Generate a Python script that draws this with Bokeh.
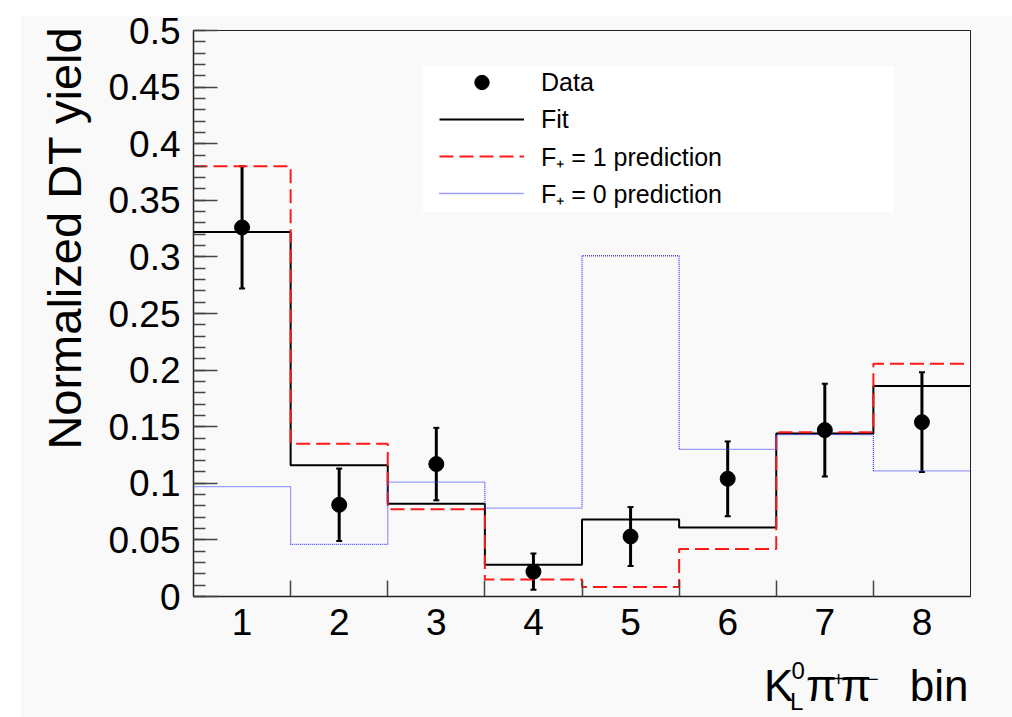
import math
from bokeh.plotting import figure
from bokeh.models import (FixedTicker, CustomJSTickFormatter, Legend, LegendItem, Title,
                          BoxAnnotation, Whisker, TeeHead, ColumnDataSource, Range1d,
                          LinearAxis, Spacer)
from bokeh.layouts import row, column
from bokeh.embed import file_html
from bokeh.resources import INLINE

# ---------------- data ----------------
bins = [1, 2, 3, 4, 5, 6, 7, 8]
bin_labels = ["1", "2", "3", "4", "5", "6", "7", "8"]
data_y = [0.326, 0.081, 0.117, 0.022, 0.053, 0.104, 0.147, 0.154]
data_err = [0.054, 0.032, 0.032, 0.016, 0.026, 0.033, 0.041, 0.044]
fit_y = [0.322, 0.116, 0.082, 0.028, 0.068, 0.061, 0.144, 0.186]
fplus1_y = [0.380, 0.135, 0.077, 0.015, 0.0085, 0.042, 0.145, 0.2055]
fplus0_y = [0.097, 0.046, 0.101, 0.078, 0.301, 0.130, 0.143, 0.111]
y_ticks = [0.0, 0.05, 0.1, 0.15, 0.2, 0.25, 0.3, 0.35, 0.4, 0.45, 0.5]
y_tick_labels = ["0", "0.05", "0.1", "0.15", "0.2", "0.25", "0.3", "0.35", "0.4", "0.45", "0.5"]
y_minor_step = 0.01
y_title = "Normalized DT yield"

FONT = "Liberation Sans"
BG = "#f9f9f9"

# page layout: figure placed at (20, 15) on the page (white strip above / left)
PAGE_X, PAGE_Y = 20, 15
W, H = 1012 - PAGE_X, 717 - PAGE_Y
FRAME_L, FRAME_R, FRAME_T, FRAME_B = 190, 970, 30, 597
ML, MR = FRAME_L - PAGE_X, PAGE_X + W - FRAME_R
MT, MB = FRAME_T - PAGE_Y, PAGE_Y + H - FRAME_B
X0, X1 = bins[0] - 0.5, bins[-1] + 0.5
Y0, Y1 = y_ticks[0], y_ticks[-1]
FW, FH = FRAME_R - FRAME_L, FRAME_B - FRAME_T


def dx(px):  # page pixel x -> data x (layout helper for decorations)
    return X0 + (px - FRAME_L) / FW * (X1 - X0)


def dy(py):  # page pixel y -> data y
    return Y0 + (FRAME_B - py) / FH * (Y1 - Y0)


edges = [b - 0.5 for b in bins] + [bins[-1] + 0.5]


def steps(vals):
    return list(vals) + [vals[-1]]


LOOKUP = """
const i = tv.findIndex(t => Math.abs(t - tick) < 1e-9);
return i >= 0 ? tl[i] : "";
"""

p = figure(width=W, height=H, x_range=Range1d(X0, X1), y_range=Range1d(Y0, Y1),
           output_backend="svg", toolbar_location=None,
           min_border_left=ML, min_border_right=MR, min_border_top=MT, min_border_bottom=MB)
p.background_fill_color = BG
p.border_fill_color = BG
p.outline_line_color = "#222222"
p.outline_line_width = 1
p.xgrid.visible = False
p.ygrid.visible = False

# legend white box (ROOT TLegend area)
p.add_layout(BoxAnnotation(left=dx(420), right=dx(893), bottom=dy(212), top=dy(65),
                           fill_color="white", fill_alpha=1.0, line_color=None, level="underlay"))

r_fit = p.step(x=edges, y=steps(fit_y), mode="after", line_color="black", line_width=2)
r_f1 = p.step(x=edges, y=steps(fplus1_y), mode="after", line_color="#ff1a1a", line_width=2,
              line_dash="14 6")
r_f0 = p.step(x=edges, y=steps(fplus0_y), mode="after", line_color="#4040ff", line_width=1.3,
              line_dash="1 1")

src = ColumnDataSource(dict(x=bins, y=data_y,
                            lower=[v - e for v, e in zip(data_y, data_err)],
                            upper=[v + e for v, e in zip(data_y, data_err)]))
p.add_layout(Whisker(base="x", lower="lower", upper="upper", source=src,
                     line_color="black", line_width=3,
                     upper_head=TeeHead(size=6, line_color="black", line_width=2),
                     lower_head=TeeHead(size=6, line_color="black", line_width=2)))
r_data = p.scatter(x="x", y="y", source=src, size=15, color="black")

# ---------------- axes ----------------
p.xaxis.ticker = FixedTicker(ticks=bins, minor_ticks=edges[1:-1])
p.xaxis.formatter = CustomJSTickFormatter(args=dict(tv=bins, tl=bin_labels), code=LOOKUP)
p.xaxis.major_tick_line_color = None
p.xaxis.minor_tick_in = 16
p.xaxis.minor_tick_out = 0
p.xaxis.minor_tick_line_color = "#444444"
p.xaxis.minor_tick_line_width = 1.5
p.xaxis.major_label_text_font = FONT
p.xaxis.major_label_text_font_size = "37px"
p.xaxis.major_label_text_color = "black"
p.xaxis.major_label_standoff = 6
p.xaxis.axis_line_color = "#222222"
p.xaxis.axis_line_width = 1.5

y_minor = [round(i * y_minor_step, 2) for i in range(int(round(Y1 / y_minor_step)) + 1)]
p.yaxis.ticker = FixedTicker(ticks=y_ticks, minor_ticks=y_minor)
p.yaxis.formatter = CustomJSTickFormatter(args=dict(tv=y_ticks, tl=y_tick_labels), code=LOOKUP)
p.yaxis.major_tick_in = 24
p.yaxis.major_tick_out = 0
p.yaxis.minor_tick_in = 12
p.yaxis.minor_tick_out = 0
p.yaxis.major_tick_line_color = "#444444"
p.yaxis.minor_tick_line_color = "#444444"
p.yaxis.major_tick_line_width = 1.5
p.yaxis.minor_tick_line_width = 1.5
p.yaxis.major_label_text_font = FONT
p.yaxis.major_label_text_font_size = "37px"
p.yaxis.major_label_text_color = "black"
p.yaxis.major_label_standoff = 13
p.yaxis.axis_line_color = "#222222"
p.yaxis.axis_line_width = 1.5

# y-axis title (top aligned like ROOT)
p.add_layout(Title(text=y_title, align="right", offset=-4, standoff=30,
                   text_font=FONT, text_font_size="47px", text_font_style="normal",
                   text_color="black"), "left")


def text_axis(pieces, fnt, size, standoff, color="black"):
    pos = [dx(px) for _, px in pieces]
    txt = [t for t, _ in pieces]
    ax = LinearAxis(ticker=FixedTicker(ticks=pos, minor_ticks=[]),
                    formatter=CustomJSTickFormatter(args=dict(tv=pos, tl=txt), code=LOOKUP),
                    axis_line_color=None, major_tick_line_color=None,
                    minor_tick_line_color=None, major_tick_in=0, major_tick_out=0,
                    minor_tick_in=0, minor_tick_out=0,
                    major_label_text_font=fnt, major_label_text_font_size=f"{size}px",
                    major_label_text_color=color, major_label_standoff=standoff)
    p.add_layout(ax, "below")


# x-axis title "K_L^0 pi+ pi- bin": stacked text-only axes (text, centre x in page px)
text_axis([("0", 797)], FONT, 24, 24)
text_axis([("+", 837.5), ("−", 872)], FONT, 20, -10)
text_axis([("K", 777.5), ("π", 820), ("π", 855), ("bin", 938.5)], FONT, 44, -28)
text_axis([("L", 795.5)], FONT, 24, -25)

legend = Legend(items=[
    LegendItem(label="Data", renderers=[r_data]),
    LegendItem(label="Fit", renderers=[r_fit]),
    LegendItem(label="F₊ = 1 prediction", renderers=[r_f1]),
    LegendItem(label="F₊ = 0 prediction", renderers=[r_f0]),
], location=(436 - FRAME_L, FRAME_B - 212), orientation="vertical",
    background_fill_alpha=0, border_line_alpha=0, padding=0, margin=0, spacing=1,
    glyph_height=36, glyph_width=85, label_standoff=17, label_height=36,
    label_text_font=FONT, label_text_font_size="25px", label_text_color="black")
p.add_layout(legend)

layout = row(Spacer(width=PAGE_X, height=10), column(Spacer(width=10, height=PAGE_Y), p))

with open("out.html", "w") as f:
    f.write(file_html(layout, INLINE))
